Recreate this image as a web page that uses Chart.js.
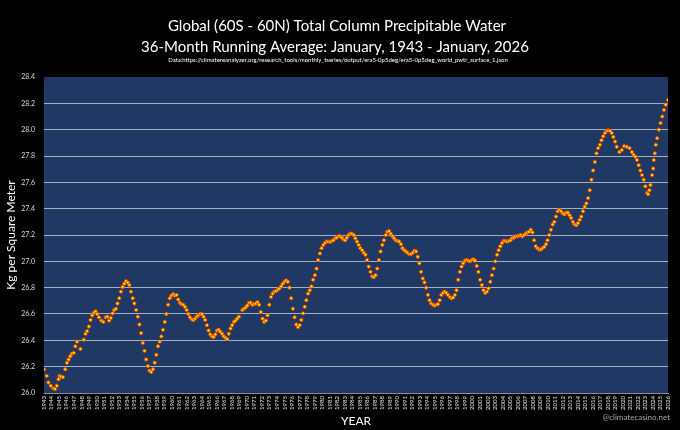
<!DOCTYPE html>
<html>
<head>
<meta charset="utf-8">
<title>Global Total Column Precipitable Water</title>
<script src="https://cdn.jsdelivr.net/npm/chart.js@4.4.1/dist/chart.umd.min.js"></script>
<style>
  html, body { margin: 0; padding: 0; background: #000; }
  #chart { display: block; }
</style>
</head>
<body>
<canvas id="chart" width="680" height="430"></canvas>
<script>
// readings: decimal year, kg/m2 (36-month running mean)
const yearPos = [
  1943.00, 1943.36, 1943.58, 1943.90, 1944.26, 1944.48, 1944.70, 1944.93, 1945.06, 1945.24,
  1945.51, 1945.83, 1946.05, 1946.28, 1946.50, 1946.72, 1946.95, 1947.17, 1947.40, 1947.85,
  1948.29, 1948.52, 1948.74, 1948.97, 1949.19, 1949.42, 1949.64, 1949.86, 1950.09, 1950.31,
  1950.63, 1950.90, 1951.21, 1951.43, 1951.66, 1951.88, 1952.11, 1952.33, 1952.56, 1952.78,
  1953.00, 1953.23, 1953.45, 1953.68, 1953.90, 1954.13, 1954.35, 1954.57, 1954.80, 1955.02,
  1955.25, 1955.47, 1955.70, 1955.92, 1956.14, 1956.37, 1956.59, 1956.82, 1957.04, 1957.27,
  1957.49, 1957.72, 1957.94, 1958.16, 1958.39, 1958.61, 1958.83, 1959.06, 1959.28, 1959.51,
  1959.73, 1959.96, 1960.18, 1960.40, 1960.63, 1960.85, 1961.08, 1961.30, 1961.53, 1961.75,
  1961.97, 1962.20, 1962.42, 1962.65, 1962.87, 1963.10, 1963.32, 1963.54, 1963.77, 1963.99,
  1964.22, 1964.44, 1964.67, 1964.89, 1965.12, 1965.34, 1965.56, 1965.79, 1966.01, 1966.24,
  1966.46, 1966.69, 1966.91, 1967.13, 1967.36, 1967.58, 1967.81, 1968.03, 1968.26, 1968.48,
  1968.70, 1968.93, 1969.38, 1969.60, 1969.83, 1970.05, 1970.27, 1970.50, 1970.72, 1970.95,
  1971.17, 1971.40, 1971.62, 1971.84, 1972.07, 1972.29, 1972.52, 1972.74, 1972.97, 1973.19,
  1973.41, 1973.64, 1973.86, 1974.09, 1974.31, 1974.54, 1974.76, 1974.99, 1975.21, 1975.43,
  1975.66, 1975.88, 1976.11, 1976.33, 1976.56, 1976.78, 1977.01, 1977.23, 1977.46, 1977.68,
  1977.90, 1978.13, 1978.35, 1978.58, 1978.80, 1979.03, 1979.25, 1979.47, 1979.70, 1979.92,
  1980.15, 1980.37, 1980.60, 1980.82, 1981.04, 1981.27, 1981.49, 1981.72, 1981.94, 1982.17,
  1982.39, 1982.62, 1982.84, 1983.06, 1983.29, 1983.51, 1983.74, 1983.96, 1984.19, 1984.41,
  1984.63, 1984.86, 1985.08, 1985.31, 1985.53, 1985.76, 1985.98, 1986.20, 1986.43, 1986.65,
  1986.88, 1987.10, 1987.33, 1987.55, 1987.77, 1988.00, 1988.22, 1988.45, 1988.67, 1988.90,
  1989.12, 1989.35, 1989.57, 1989.79, 1990.02, 1990.24, 1990.47, 1990.69, 1990.92, 1991.14,
  1991.36, 1991.59, 1991.81, 1992.04, 1992.26, 1992.49, 1992.71, 1992.93, 1993.16, 1993.38,
  1993.61, 1993.83, 1994.06, 1994.28, 1994.51, 1994.73, 1994.96, 1995.18, 1995.40, 1995.63,
  1995.85, 1996.08, 1996.30, 1996.53, 1996.75, 1996.97, 1997.20, 1997.42, 1997.65, 1997.87,
  1998.10, 1998.32, 1998.54, 1998.77, 1998.99, 1999.22, 1999.44, 1999.67, 1999.89, 2000.12,
  2000.34, 2000.56, 2000.79, 2001.01, 2001.24, 2001.46, 2001.69, 2001.91, 2002.13, 2002.36,
  2002.58, 2002.81, 2003.03, 2003.26, 2003.48, 2003.70, 2003.93, 2004.15, 2004.38, 2004.60,
  2004.83, 2005.05, 2005.27, 2005.50, 2005.72, 2005.95, 2006.17, 2006.40, 2006.62, 2006.84,
  2007.07, 2007.29, 2007.52, 2007.74, 2007.97, 2008.19, 2008.41, 2008.64, 2008.86, 2009.09,
  2009.31, 2009.54, 2009.76, 2009.98, 2010.21, 2010.43, 2010.66, 2010.88, 2011.11, 2011.33,
  2011.55, 2011.78, 2012.00, 2012.23, 2012.45, 2012.68, 2012.90, 2013.12, 2013.35, 2013.57,
  2013.80, 2014.02, 2014.25, 2014.47, 2014.69, 2014.92, 2015.14, 2015.37, 2015.59, 2015.82,
  2016.04, 2016.27, 2016.49, 2016.71, 2016.94, 2017.16, 2017.39, 2017.61, 2017.84, 2018.06,
  2018.28, 2018.51, 2018.73, 2018.96, 2019.18, 2019.54, 2019.85, 2020.17, 2020.53, 2020.88,
  2021.20, 2021.42, 2021.65, 2021.87, 2022.10, 2022.32, 2022.54, 2022.77, 2022.99, 2023.22,
  2023.35, 2023.53, 2023.67, 2023.89, 2024.03, 2024.11, 2024.25, 2024.38, 2024.56, 2024.79,
  2025.01, 2025.24, 2025.46, 2025.69, 2026.00,
];

const pwValues = [
  26.18, 26.13, 26.08, 26.055, 26.035, 26.03, 26.055, 26.105, 26.13, 26.125,
  26.12, 26.18, 26.23, 26.255, 26.28, 26.30, 26.305, 26.355, 26.39, 26.335,
  26.405, 26.45, 26.47, 26.505, 26.555, 26.59, 26.61, 26.62, 26.60, 26.575,
  26.55, 26.54, 26.575, 26.58, 26.55, 26.57, 26.605, 26.63, 26.64, 26.68,
  26.72, 26.77, 26.805, 26.83, 26.85, 26.84, 26.82, 26.77, 26.72, 26.68,
  26.63, 26.58, 26.52, 26.455, 26.38, 26.32, 26.255, 26.205, 26.17, 26.16,
  26.18, 26.23, 26.29, 26.355, 26.39, 26.43, 26.48, 26.54, 26.60, 26.67,
  26.72, 26.74, 26.75, 26.74, 26.745, 26.71, 26.685, 26.675, 26.67, 26.655,
  26.63, 26.60, 26.575, 26.56, 26.555, 26.565, 26.58, 26.59, 26.60, 26.60,
  26.58, 26.555, 26.515, 26.475, 26.445, 26.43, 26.425, 26.445, 26.475, 26.48,
  26.465, 26.45, 26.43, 26.42, 26.41, 26.45, 26.49, 26.515, 26.54, 26.55,
  26.565, 26.58, 26.63, 26.64, 26.65, 26.665, 26.685, 26.685, 26.67, 26.675,
  26.68, 26.69, 26.67, 26.615, 26.565, 26.54, 26.55, 26.59, 26.67, 26.73,
  26.755, 26.77, 26.775, 26.785, 26.795, 26.81, 26.83, 26.845, 26.855, 26.845,
  26.80, 26.72, 26.64, 26.575, 26.52, 26.50, 26.515, 26.555, 26.605, 26.655,
  26.705, 26.755, 26.78, 26.81, 26.86, 26.895, 26.945, 27.01, 27.06, 27.10,
  27.125, 27.14, 27.15, 27.15, 27.147, 27.155, 27.16, 27.175, 27.18, 27.19,
  27.19, 27.18, 27.165, 27.16, 27.18, 27.20, 27.21, 27.21, 27.20, 27.175,
  27.15, 27.125, 27.10, 27.085, 27.065, 27.05, 27.01, 26.96, 26.92, 26.885,
  26.88, 26.895, 26.945, 27.01, 27.075, 27.125, 27.16, 27.20, 27.225, 27.23,
  27.21, 27.19, 27.175, 27.16, 27.155, 27.15, 27.13, 27.10, 27.085, 27.075,
  27.065, 27.055, 27.055, 27.065, 27.08, 27.075, 27.035, 26.985, 26.92, 26.87,
  26.84, 26.80, 26.745, 26.705, 26.68, 26.67, 26.665, 26.67, 26.675, 26.705,
  26.745, 26.76, 26.77, 26.76, 26.745, 26.73, 26.72, 26.725, 26.745, 26.78,
  26.86, 26.92, 26.96, 26.985, 27.005, 27.01, 27.005, 27.00, 27.01, 27.015,
  27.005, 26.965, 26.92, 26.86, 26.82, 26.78, 26.76, 26.77, 26.795, 26.845,
  26.895, 26.945, 27.00, 27.05, 27.085, 27.115, 27.14, 27.155, 27.155, 27.15,
  27.155, 27.16, 27.175, 27.18, 27.19, 27.19, 27.195, 27.20, 27.19, 27.20,
  27.21, 27.22, 27.225, 27.24, 27.22, 27.16, 27.115, 27.10, 27.09, 27.09,
  27.10, 27.11, 27.13, 27.16, 27.20, 27.24, 27.28, 27.30, 27.34, 27.38,
  27.39, 27.38, 27.365, 27.357, 27.37, 27.37, 27.35, 27.33, 27.30, 27.28,
  27.275, 27.29, 27.315, 27.34, 27.38, 27.415, 27.44, 27.48, 27.54, 27.62,
  27.69, 27.755, 27.82, 27.86, 27.885, 27.92, 27.95, 27.975, 27.99, 27.995,
  27.99, 27.975, 27.945, 27.91, 27.87, 27.83, 27.845, 27.875, 27.87, 27.86,
  27.83, 27.81, 27.795, 27.77, 27.73, 27.69, 27.655, 27.62, 27.57, 27.52,
  27.51, 27.54, 27.58, 27.655, 27.705, 27.77, 27.82, 27.885, 27.935, 28.00,
  28.05, 28.10, 28.15, 28.19, 28.225,
];

const yearTicks = { first: 1943, last: 2026 };
const valueTicks = { min: 26.0, max: 28.4, step: 0.2 };

const titleLines = [
  "Global (60S - 60N) Total Column Precipitable Water",
  "36-Month Running Average: January, 1943 - January, 2026",
];
const sourceLine =
  "Data:https://climatereanalyzer.org/research_tools/monthly_tseries/output/era5-0p5deg/era5-0p5deg_world_pwtr_surface_1.json";
const creditLine = "@climatecasino.net";

const points = yearPos.map((yr, i) => ({ x: yr, y: pwValues[i] }));

//black page, blue plot box, titles drawn on the canvas
const decor = {
  id: "decor",
  beforeDraw(chart) {
    const { ctx, chartArea: a } = chart;
    ctx.save();
    ctx.fillStyle = "#000";
    ctx.fillRect(0, 0, chart.width, chart.height);
    ctx.fillStyle = "#1f3864";
    ctx.fillRect(a.left, a.top, a.right - a.left, a.bottom - a.top);
    ctx.restore();
  },
  afterDraw(chart) {
    const ctx = chart.ctx;
    ctx.save();
    ctx.textAlign = "center";
    ctx.textBaseline = "alphabetic";
    ctx.fillStyle = "#ffffff";
    ctx.font = "15px Lato";
    ctx.fillText(titleLines[0], 337, 31, 408);
    ctx.fillText(titleLines[1], 335, 52, 446);
    ctx.font = "6px Lato";
    ctx.fillText(sourceLine, 338, 62, 362);
    ctx.textAlign = "right";
    ctx.fillStyle = "#a6a6a6";
    ctx.font = "8px Lato";
    ctx.fillText(creditLine, 670, 420);
    ctx.restore();
  },
};

new Chart(document.querySelector("#chart"), {
  type: "scatter",
  data: {
    datasets: [
      {
        label: "TCPW",
        data: points,
        showLine: false,
        pointRadius: 1.7,
        pointBackgroundColor: "#ffe000",
        pointBorderColor: "#e23a06",
        pointBorderWidth: 0.9,
      },
    ],
  },
  options: {
    responsive: false,
    animation: false,
    devicePixelRatio: 1,
    layout: { padding: { top: 77, right: 12, left: 0, bottom: 0 } },
    plugins: {
      legend: { display: false },
      tooltip: { enabled: false },
    },
    scales: {
      x: {
        type: "linear",
        min: yearTicks.first,
        max: yearTicks.last,
        afterFit: (scale) => {
          scale.height = 37;
        },
        grid: { display: false, drawTicks: false },
        border: { display: true, color: "#8c8c8c", width: 1 },
        ticks: {
          stepSize: 1,
          maxTicksLimit: 200,
          autoSkip: false,
          minRotation: 90,
          maxRotation: 90,
          padding: 3,
          color: "#e6e6e6",
          font: { family: "Lato", size: 6 },
          callback: (v) => String(v),
        },
        title: {
          display: true,
          text: "YEAR",
          color: "#ffffff",
          font: { family: "Lato", size: 12 },
          padding: { top: 0, bottom: 2 },
        },
      },
      y: {
        min: valueTicks.min,
        max: valueTicks.max,
        afterFit: (scale) => {
          scale.width = 44;
        },
        grid: {
          drawTicks: false,
          color: (c) => (c.tick && c.tick.value >= valueTicks.max - 0.01 ? "rgba(0,0,0,0)" : "rgba(200,206,218,0.8)"),
          lineWidth: 1,
        },
        border: { display: false },
        ticks: {
          stepSize: valueTicks.step,
          padding: 9,
          color: "#d9d9d9",
          font: { family: "Lato", size: 7 },
          callback: (v) => Number(v).toFixed(1),
        },
        title: {
          display: true,
          text: "Kg per Square Meter",
          color: "#ffffff",
          font: { family: "Lato", size: 12 },
          padding: { top: 4, bottom: 0 },
        },
      },
    },
  },
  plugins: [decor],
});
</script>
</body>
</html>
